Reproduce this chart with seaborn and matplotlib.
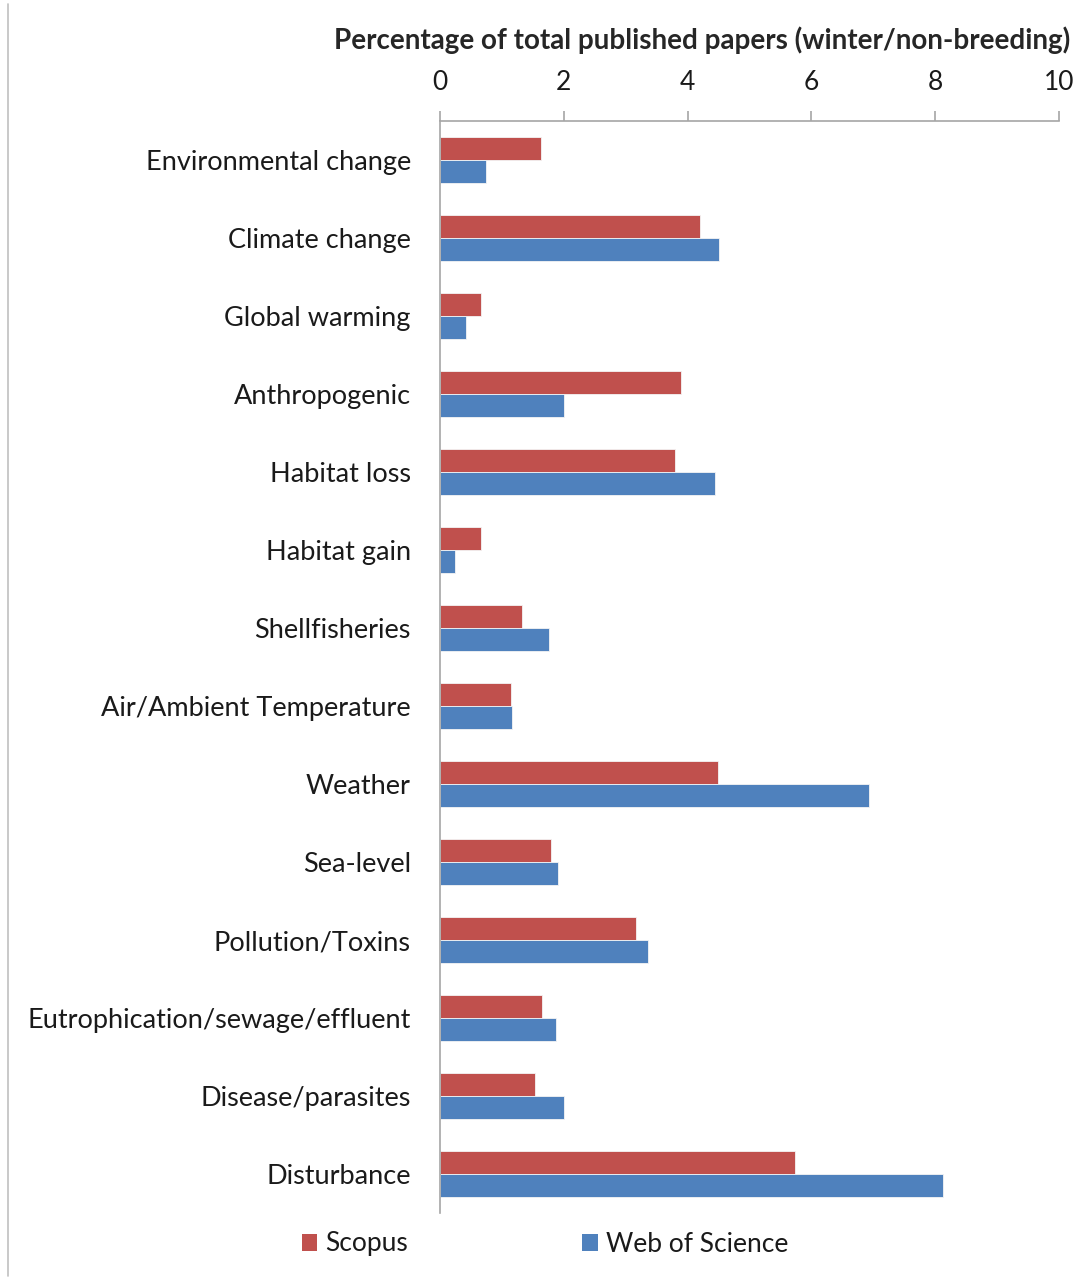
import matplotlib
matplotlib.use("Agg")
import matplotlib.pyplot as plt
from matplotlib.lines import Line2D
from matplotlib.patches import Patch
import pandas as pd
import seaborn as sns

categories = ['Environmental change', 'Climate change', 'Global warming', 'Anthropogenic',
              'Habitat loss', 'Habitat gain', 'Shellfisheries', 'Air/Ambient Temperature',
              'Weather', 'Sea-level', 'Pollution/Toxins', 'Eutrophication/sewage/effluent',
              'Disease/parasites', 'Disturbance']
scopus = [1.63, 4.20, 0.66, 3.89, 3.80, 0.66, 1.32, 1.14, 4.49, 1.80, 3.16, 1.64, 1.53, 5.73]
wos = [0.75, 4.51, 0.42, 2.00, 4.44, 0.24, 1.76, 1.17, 6.93, 1.91, 3.36, 1.87, 2.01, 8.13]
sources = ['Scopus', 'Web of Science']
colors = ['#C0504D', '#4F81BD']

df = pd.DataFrame({
    'category': categories * 2,
    'value': scopus + wos,
    'source': [sources[0]] * len(categories) + [sources[1]] * len(categories),
})

sns.set_style('white')
plt.rcParams['font.family'] = ['Lato', 'DejaVu Sans']

fig = plt.figure(figsize=(10.83, 12.81), dpi=100)
ax = fig.add_axes([440 / 1083, 1 - 1213 / 1281, 619 / 1083, 1092 / 1281])

sns.barplot(data=df, y='category', x='value', hue='source', order=categories,
            hue_order=sources, palette=colors, saturation=1, orient='h', width=0.58,
            edgecolor='#f4f4f4', linewidth=0.6, legend=False, ax=ax)

ax.set_xlim(0, 10)
ax.set_ylim(len(categories) - 0.5, -0.5)
ax.xaxis.tick_top()
ax.xaxis.set_label_position('top')
ax.set_xticks(range(0, 11, 2))
ax.set_xlabel('Percentage of total published papers (winter/non-breeding)',
              fontsize=20, fontweight='bold')
ax.xaxis.set_label_coords(1070 / 1083, 1 - 40 / 1281, transform=fig.transFigure)
ax.xaxis.label.set_horizontalalignment('right')
ax.xaxis.label.set_verticalalignment('center')
ax.set_ylabel('')

for side in ['right', 'bottom']:
    ax.spines[side].set_visible(False)
for side in ['top', 'left']:
    ax.spines[side].set_color('#a6a6a6')
    ax.spines[side].set_linewidth(1.2)

ax.tick_params(axis='x', which='major', direction='out', length=7, width=1.2,
               color='#a6a6a6', labelsize=19, pad=12, labelcolor='#1a1a1a')
ax.tick_params(axis='y', which='major', length=0, labelsize=19.5, pad=21, labelcolor='#1a1a1a')
ax.set_yticks([i + 0.5 for i in range(-1, len(categories))], minor=True)
ax.tick_params(axis='y', which='minor', direction='out', length=9, width=1.2, color='#a6a6a6')

handles = [Patch(facecolor=c, edgecolor='none') for c in colors]
fig.legend(handles, sources, loc='center', bbox_to_anchor=(545 / 1083, 1 - 1244 / 1281),
           ncol=2, frameon=False, fontsize=19, handlelength=0.6, handleheight=0.6,
           handletextpad=0.3, columnspacing=6.6, labelcolor='#1a1a1a')

fig.add_artist(Line2D([8 / 1083, 8 / 1083], [1 - 4 / 1281, 1 - 1276 / 1281],
                      color='#c0c0c0', linewidth=1.2))

plt.savefig('out.png', dpi=100)
